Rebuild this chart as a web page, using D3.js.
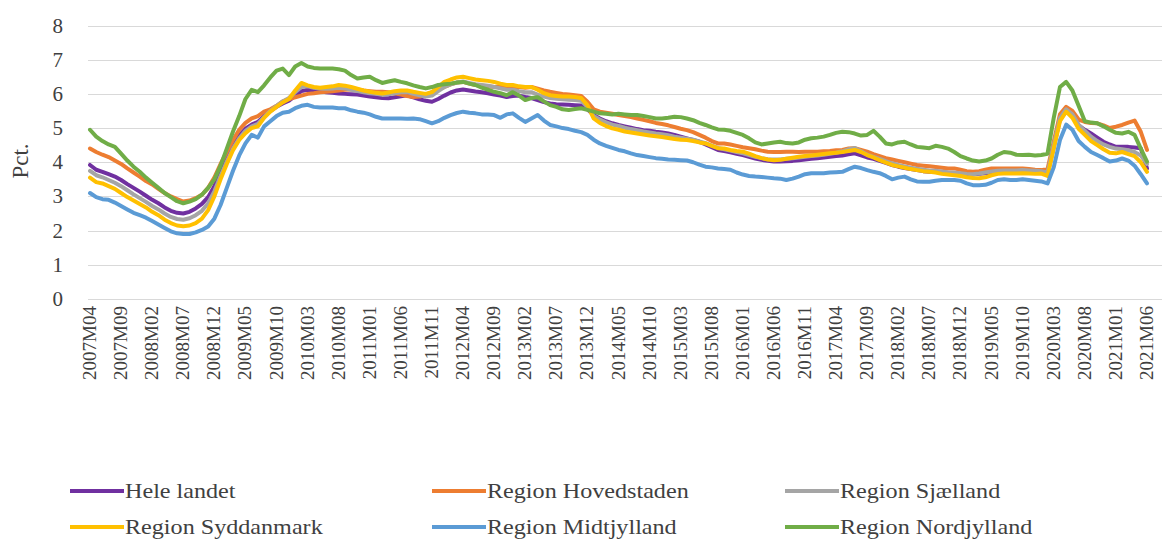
<!DOCTYPE html>
<meta charset="utf-8">
<script src="https://d3js.org/d3.v7.min.js"></script>
<style>
  body { margin: 0; background: #fff; }
</style>
<svg></svg>
<script>

    var width = 1166;
    var height = 539;
    var font = "'Liberation Serif', 'DejaVu Serif', 'Times New Roman', serif";

    // monthly categories 2007M04 .. 2021M06
    var months = d3.range(171).map(function(i) {
        var yr = 2007 + Math.floor((3 + i) / 12);
        var mo = (3 + i) % 12 + 1;
        return yr + "M" + String(mo).padStart(2, "0");
    });

    var tickLabels = ["2007M04","2007M09","2008M02","2008M07","2008M12","2009M05","2009M10",
        "2010M03","2010M08","2011M01","2011M06","2011M11","2012M04","2012M09","2013M02",
        "2013M07","2013M12","2014M05","2014M10","2015M03","2015M08","2016M01","2016M06",
        "2016M11","2017M04","2017M09","2018M02","2018M07","2018M12","2019M05","2019M10",
        "2020M03","2020M08","2021M01","2021M06"];

    var yTicks = [0, 1, 2, 3, 4, 5, 6, 7, 8];

    var seriesNames = ["Hele landet", "Region Hovedstaden", "Region Sjælland",
        "Region Syddanmark", "Region Midtjylland", "Region Nordjylland"];
    var seriesColors = ["#7030A0", "#ED7D31", "#A5A5A5", "#FFC000", "#5B9BD5", "#70AD47"];

    var heleLandet = [
        3.92,3.78,3.72,3.65,3.58,3.48,3.36,3.25,3.14,3.02,2.90,2.80,2.68,2.58,2.52,2.50,2.55,2.65,2.78,2.98,
        3.30,3.72,4.12,4.48,4.78,4.98,5.10,5.18,5.35,5.50,5.62,5.72,5.80,5.95,6.08,
        6.12,6.10,6.08,6.05,6.03,6.01,6.00,5.99,5.98,5.95,5.92,5.90,5.88,5.87,5.90,5.93,5.96,5.90,5.84,5.80,
        5.77,5.85,5.95,6.04,6.10,6.13,6.10,6.07,6.05,6.02,5.98,5.95,5.91,
        5.94,5.95,5.91,5.88,5.82,5.76,5.72,5.70,5.69,5.68,5.67,5.66,5.55,5.38,5.28,5.20,5.14,5.09,5.05,5.01,
        4.97,4.94,4.92,4.89,4.87,4.84,4.80,4.75,4.70,4.65,4.60,4.52,4.44,4.36,
        4.33,4.29,4.25,4.21,4.16,4.11,4.07,4.04,4.02,4.02,4.03,4.04,4.06,4.08,4.10,4.12,4.14,4.16,4.18,4.20,
        4.23,4.26,4.20,4.14,4.10,4.04,3.98,3.92,3.87,3.83,3.80,3.77,3.74,3.72,
        3.72,3.70,3.68,3.66,3.65,3.64,3.64,3.66,3.68,3.70,3.72,3.73,3.73,3.73,3.74,3.73,3.72,3.72,3.66,4.45,
        5.25,5.50,5.35,5.08,4.95,4.84,4.72,4.60,4.52,4.45,4.45,4.45,4.43,4.41,3.82];

    var hovedstaden = [
        4.40,4.30,4.22,4.15,4.05,3.95,3.82,3.70,3.58,3.45,3.35,3.22,3.10,3.00,2.92,2.85,2.88,2.95,3.05,3.25,
        3.55,3.95,4.30,4.65,4.95,5.15,5.28,5.35,5.48,5.55,5.65,5.78,5.85,5.90,5.95,
        6.00,6.02,6.05,6.06,6.08,6.10,6.12,6.13,6.13,6.10,6.08,6.06,6.06,6.05,6.02,5.98,5.94,5.91,5.92,5.98,
        6.05,6.12,6.20,6.28,6.33,6.35,6.30,6.26,6.24,6.22,6.20,6.22,6.16,
        6.20,6.20,6.18,6.20,6.15,6.10,6.06,6.03,6.00,5.98,5.96,5.94,5.77,5.55,5.48,5.45,5.42,5.38,5.35,5.32,
        5.28,5.24,5.20,5.15,5.12,5.08,5.03,4.98,4.94,4.88,4.80,4.72,4.62,4.55,
        4.55,4.52,4.48,4.44,4.41,4.38,4.34,4.31,4.30,4.30,4.31,4.31,4.30,4.31,4.31,4.31,4.32,4.33,4.35,4.36,
        4.40,4.41,4.36,4.31,4.24,4.18,4.12,4.08,4.04,4.00,3.96,3.92,3.90,3.88,
        3.86,3.84,3.82,3.82,3.78,3.74,3.72,3.74,3.78,3.82,3.82,3.82,3.82,3.82,3.82,3.80,3.78,3.77,3.80,4.60,
        5.40,5.62,5.50,5.25,5.18,5.15,5.14,5.08,5.00,5.04,5.09,5.16,5.22,4.89,4.36];

    var sjaelland = [
        3.75,3.62,3.56,3.48,3.40,3.30,3.18,3.06,2.95,2.84,2.72,2.62,2.50,2.40,2.34,2.32,2.36,2.45,2.58,2.80,
        3.15,3.60,4.02,4.40,4.70,4.92,5.05,5.12,5.32,5.50,5.65,5.78,5.88,6.05,6.20,
        6.22,6.18,6.16,6.15,6.16,6.18,6.16,6.12,6.08,6.05,6.02,6.00,5.97,5.99,6.02,6.05,6.05,6.00,5.96,5.92,
        5.95,6.08,6.20,6.28,6.33,6.36,6.32,6.28,6.26,6.24,6.20,6.16,6.12,
        6.12,6.08,6.05,6.05,5.98,5.92,5.88,5.86,5.84,5.83,5.82,5.80,5.62,5.35,5.25,5.17,5.10,5.06,5.01,4.97,
        4.94,4.90,4.87,4.84,4.82,4.79,4.75,4.72,4.69,4.66,4.61,4.56,4.49,4.42,
        4.38,4.34,4.30,4.26,4.21,4.16,4.12,4.09,4.08,4.08,4.10,4.12,4.14,4.16,4.18,4.20,4.22,4.25,4.28,4.32,
        4.38,4.42,4.32,4.22,4.16,4.10,4.03,3.97,3.92,3.88,3.84,3.81,3.78,3.76,
        3.75,3.73,3.71,3.70,3.68,3.66,3.65,3.67,3.70,3.73,3.75,3.76,3.76,3.76,3.77,3.76,3.75,3.74,3.70,4.50,
        5.30,5.55,5.40,5.10,4.92,4.75,4.62,4.52,4.45,4.40,4.38,4.35,4.30,4.20,3.95];

    var syddanmark = [
        3.55,3.42,3.38,3.30,3.22,3.10,2.98,2.88,2.78,2.68,2.55,2.45,2.32,2.22,2.15,2.13,2.15,2.22,2.35,2.60,
        3.00,3.50,3.95,4.35,4.65,4.85,5.00,5.05,5.30,5.48,5.62,5.75,5.85,6.10,6.32,
        6.25,6.20,6.18,6.20,6.22,6.26,6.24,6.20,6.15,6.10,6.06,6.03,6.01,6.04,6.08,6.10,6.10,6.06,6.03,6.00,
        6.05,6.20,6.35,6.42,6.48,6.50,6.46,6.42,6.40,6.38,6.35,6.30,6.26,
        6.26,6.22,6.20,6.20,6.12,6.02,5.96,5.94,5.92,5.92,5.91,5.88,5.67,5.28,5.15,5.06,4.99,4.95,4.90,4.87,
        4.84,4.81,4.78,4.76,4.74,4.71,4.68,4.66,4.65,4.62,4.58,4.55,4.48,4.41,
        4.40,4.36,4.33,4.31,4.25,4.18,4.12,4.08,4.06,4.07,4.10,4.13,4.16,4.18,4.20,4.22,4.24,4.26,4.28,4.30,
        4.33,4.36,4.30,4.21,4.14,4.06,3.99,3.92,3.88,3.84,3.80,3.77,3.74,3.72,
        3.70,3.66,3.64,3.62,3.60,3.56,3.54,3.53,3.56,3.62,3.66,3.67,3.67,3.67,3.68,3.67,3.66,3.67,3.60,4.40,
        5.20,5.48,5.30,4.98,4.80,4.62,4.50,4.38,4.28,4.26,4.30,4.24,4.18,4.00,3.72];

    var midtjylland = [
        3.10,2.98,2.92,2.90,2.82,2.72,2.62,2.52,2.45,2.38,2.28,2.18,2.08,1.98,1.92,1.90,1.90,1.95,2.02,2.12,
        2.35,2.75,3.25,3.75,4.20,4.55,4.80,4.72,5.05,5.20,5.35,5.45,5.48,5.58,5.65,
        5.68,5.62,5.60,5.60,5.60,5.58,5.58,5.52,5.48,5.45,5.40,5.33,5.28,5.28,5.28,5.28,5.27,5.28,5.26,5.20,
        5.14,5.20,5.30,5.38,5.44,5.48,5.45,5.43,5.40,5.40,5.38,5.30,5.40,
        5.43,5.30,5.18,5.28,5.38,5.22,5.09,5.05,5.00,4.97,4.92,4.88,4.80,4.66,4.55,4.48,4.42,4.36,4.32,4.26,
        4.21,4.18,4.15,4.12,4.10,4.08,4.07,4.06,4.05,4.00,3.93,3.87,3.85,3.82,
        3.80,3.78,3.70,3.64,3.60,3.58,3.57,3.55,3.53,3.52,3.48,3.52,3.58,3.65,3.68,3.68,3.68,3.70,3.71,3.72,
        3.80,3.87,3.83,3.77,3.72,3.68,3.60,3.50,3.55,3.58,3.50,3.44,3.43,3.43,
        3.46,3.48,3.48,3.48,3.46,3.38,3.33,3.33,3.34,3.40,3.48,3.50,3.48,3.48,3.50,3.48,3.46,3.44,3.38,3.85,
        4.65,5.10,4.95,4.62,4.45,4.30,4.21,4.12,4.02,4.05,4.11,4.05,3.90,3.65,3.38];

    var nordjylland = [
        4.95,4.75,4.62,4.52,4.45,4.25,4.05,3.87,3.72,3.55,3.40,3.25,3.10,2.98,2.86,2.80,2.85,2.92,3.05,3.25,
        3.50,3.90,4.40,4.90,5.35,5.85,6.12,6.05,6.25,6.48,6.68,6.74,6.55,6.80,6.90,
        6.80,6.76,6.74,6.74,6.74,6.72,6.68,6.55,6.45,6.48,6.50,6.40,6.32,6.36,6.40,6.35,6.31,6.25,6.20,6.16,
        6.20,6.26,6.28,6.30,6.33,6.35,6.30,6.26,6.18,6.12,6.06,6.02,5.96,
        6.05,5.95,5.82,5.88,5.90,5.78,5.67,5.62,5.55,5.53,5.56,5.58,5.53,5.48,5.43,5.42,5.40,5.42,5.40,5.38,
        5.38,5.35,5.32,5.28,5.28,5.30,5.33,5.32,5.28,5.23,5.15,5.09,5.02,4.96,
        4.95,4.92,4.86,4.80,4.70,4.58,4.52,4.55,4.58,4.60,4.56,4.55,4.58,4.66,4.70,4.72,4.75,4.80,4.86,4.89,
        4.88,4.84,4.78,4.80,4.92,4.75,4.55,4.52,4.58,4.60,4.52,4.45,4.43,4.41,
        4.48,4.45,4.40,4.30,4.18,4.11,4.05,4.02,4.05,4.11,4.22,4.30,4.28,4.22,4.21,4.22,4.20,4.21,4.25,5.30,
        6.20,6.35,6.10,5.65,5.20,5.16,5.14,5.05,4.95,4.86,4.84,4.89,4.80,4.40,4.02];

    var allSeries = [heleLandet, hovedstaden, sjaelland, syddanmark, midtjylland, nordjylland];

    var svg = d3.select("svg")
        .attr("width", width)
        .attr("height", height)
        .style("font-family", font);

    var x = d3.scalePoint().domain(months).range([90, 1147]);
    var y = d3.scaleLinear().domain([0, 8]).range([299, 25.5]);

    // gridlines
    svg.append("g")
        .selectAll("line")
        .data(yTicks)
        .join("line")
        .attr("x1", 88)
        .attr("x2", 1162)
        .attr("y1", d => Math.round(y(d)) + 0.5)
        .attr("y2", d => Math.round(y(d)) + 0.5)
        .attr("stroke", "#d9d9d9")
        .attr("stroke-width", 1);

    // y axis labels
    svg.append("g")
        .selectAll("text")
        .data(yTicks)
        .join("text")
        .attr("x", 63)
        .attr("y", d => y(d) + 7)
        .attr("text-anchor", "end")
        .attr("font-family", font)
        .attr("font-size", 21)
        .attr("fill", "#404040")
        .text(d => d);

    svg.append("text")
        .attr("transform", "translate(28,161) rotate(-90)")
        .attr("text-anchor", "middle")
        .attr("font-family", font)
        .attr("font-size", 23)
        .attr("fill", "#404040")
        .text("Pct.");

    // x axis labels
    svg.append("g")
        .selectAll("text")
        .data(tickLabels)
        .join("text")
        .attr("transform", d => `translate(${x(d) + 6},306) rotate(-90)`)
        .attr("text-anchor", "end")
        .attr("font-family", font)
        .attr("font-size", 19)
        .attr("fill", "#404040")
        .text(d => d);

    var line = d3.line()
        .x((d, i) => x(months[i]))
        .y(d => y(d));

    svg.append("g")
        .selectAll("path")
        .data(allSeries)
        .join("path")
        .attr("d", d => line(d))
        .attr("fill", "none")
        .attr("stroke", (d, i) => seriesColors[i])
        .attr("stroke-width", 4)
        .attr("stroke-linejoin", "round")
        .attr("stroke-linecap", "round");

    // legend
    var legendX = [70, 432, 785];
    var legendY = [491, 527];

    var legend = svg.append("g")
        .selectAll("g")
        .data(seriesNames)
        .join("g")
        .attr("transform", (d, i) => `translate(${legendX[i % 3]},${legendY[Math.floor(i / 3)]})`);

    legend.append("line")
        .attr("x1", 0)
        .attr("x2", 54)
        .attr("stroke", (d, i) => seriesColors[i])
        .attr("stroke-width", 4);

    legend.append("text")
        .attr("transform", "translate(55,7) scale(1.15,1)")
        .attr("font-family", font)
        .attr("font-size", 21)
        .attr("fill", "#404040")
        .text(d => d);

</script>
